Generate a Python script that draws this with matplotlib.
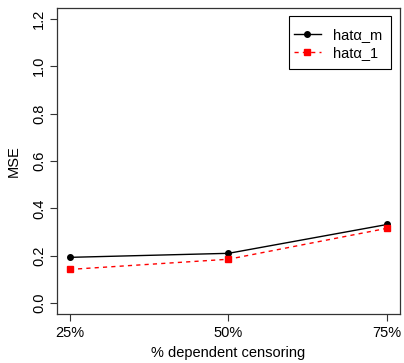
import matplotlib
matplotlib.use("Agg")
import matplotlib.pyplot as plt
from matplotlib.patches import Rectangle

categories = ["25%", "50%", "75%"]
hat_alpha_m = [0.193, 0.21, 0.332]
hat_alpha_1 = [0.142, 0.185, 0.316]
yticks = [0.0, 0.2, 0.4, 0.6, 0.8, 1.0, 1.2]

plt.rcParams['font.family'] = ['Liberation Sans', 'DejaVu Sans']
W, H = 404, 363
fig = plt.figure(figsize=(W/100, H/100), dpi=100)
ax = fig.add_axes([57/W, 1-314.4/H, (400-57)/W, (314.4-7.6)/H])
x = list(range(1, len(categories)+1))
ax.plot(x, hat_alpha_m, color='black', lw=1, marker='o', ms=4, label='hatα_m')
ax.plot(x, hat_alpha_1, color='red', lw=1, ls=(0, (3, 3)), marker='s', ms=4.5, label='hatα_1')
ax.set_xlim(0.92, 3.08)
ax.set_ylim(-0.048, 1.248)
ax.set_xticks(x)
ax.set_xticklabels(categories, fontsize=10.5)
ax.set_yticks(yticks)
ax.set_yticklabels([f"{v:.1f}" for v in yticks], fontsize=10.5, rotation=90, va='center')
ax.tick_params(length=5, width=0.8, color='#333333', pad=3)
for s in ax.spines.values():
    s.set_color('#333333'); s.set_linewidth(0.9)
ax.set_xlabel('% dependent censoring', fontsize=10.5, labelpad=5)
ax.set_ylabel('MSE', fontsize=10.5, labelpad=8)
leg = ax.legend(loc='upper left', bbox_to_anchor=(294/W, 1-28/H), bbox_transform=fig.transFigure,
                fontsize=10.5, frameon=False, borderaxespad=0, borderpad=0,
                handlelength=1.85, labelspacing=0.25, handletextpad=0.8)
fig.patches.append(Rectangle((289/W, 1-69/H), 102/W, 53/H, transform=fig.transFigure,
                             fill=False, ec='black', lw=0.8))
fig.savefig('out.png', dpi=100)
